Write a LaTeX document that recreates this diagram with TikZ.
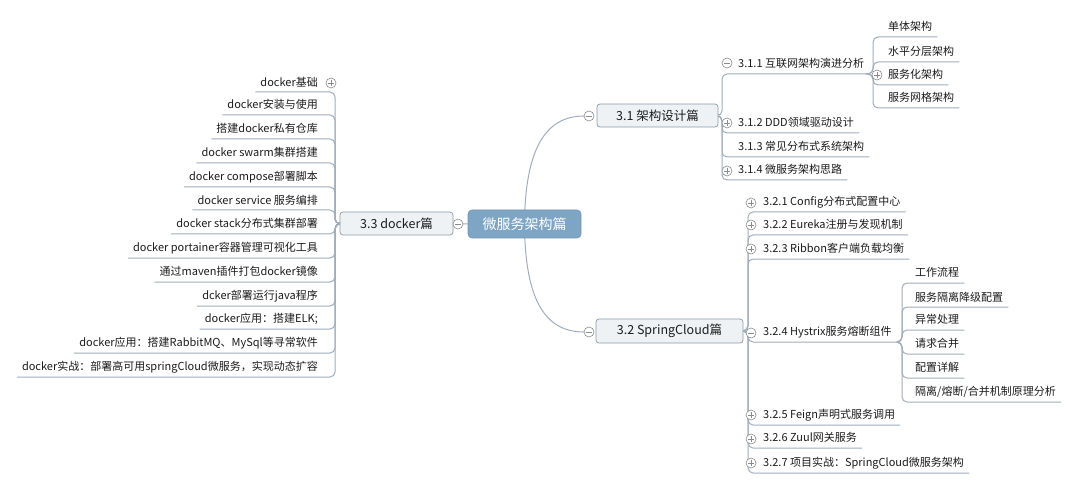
\documentclass[tikz,border=0pt]{standalone}
\usepackage{fontspec}
\newfontfamily\cjk{Noto Sans CJK SC}
\usetikzlibrary{backgrounds}
\definecolor{lnc}{HTML}{A0AEBC}
\definecolor{rootc}{HTML}{7FA5C5}
\definecolor{rootd}{HTML}{6F95B5}
\definecolor{boxf}{HTML}{EEF2F5}
\definecolor{boxd}{HTML}{8D9BA9}
\definecolor{mkc}{HTML}{8A8A8A}
\definecolor{txt}{HTML}{1C1C1C}
\tikzset{
  conn/.style={draw=lnc, line width=1pt, rounded corners=5pt},
  curv/.style={draw=lnc, line width=1pt},
  rootbox/.style={rectangle, rounded corners=4pt, fill=rootc, draw=rootd, line width=0.6pt,
    text=white, font=\cjk\fontsize{14}{16}\selectfont, minimum width=113pt, minimum height=28pt, inner sep=0pt},
  branchbox/.style={rectangle, rounded corners=3pt, fill=boxf, draw=boxd, line width=0.7pt,
    text=txt, font=\cjk\fontsize{12.5}{14}\selectfont, minimum height=23pt, inner sep=0pt},
  item/.style={font=\cjk\fontsize{11}{13}\selectfont, text=txt, inner xsep=5pt, inner ysep=0pt, minimum height=20pt},
  ritem/.style={item, anchor=south west},
  litem/.style={item, anchor=south east},
  mk/.style={circle, draw=mkc, fill=white, minimum size=10pt, inner sep=0pt, line width=0.6pt},
  minusmk/.style={mk, path picture={\draw[mkc, line width=0.6pt]
      ([xshift=2.2pt]path picture bounding box.west) -- ([xshift=-2.2pt]path picture bounding box.east);}},
  plusmk/.style={mk, path picture={\draw[mkc, line width=0.6pt]
      ([xshift=2.2pt]path picture bounding box.west) -- ([xshift=-2.2pt]path picture bounding box.east)
      ([yshift=-2.2pt]path picture bounding box.north) -- ([yshift=2.2pt]path picture bounding box.south);}},
}
\begin{document}
\begin{tikzpicture}[x=1pt,y=-1pt]
\useasboundingbox (0,0) rectangle (1080,492);

% ---- main nodes
\node[rootbox] (root) at (524.5,224) {微服务架构篇};
\node[branchbox, minimum width=121pt] (b31) at (657.5,115.5) {3.1 架构设计篇};
\node[branchbox, minimum width=147pt, minimum height=24pt] (b32) at (669.5,331) {3.2 SpringCloud篇};
\node[branchbox, minimum width=113pt] (b33) at (396.5,223.5) {3.3 docker篇};

% ---- 3.1 children
\node[ritem] (r1) at (733,74) {3.1.1 互联网架构演进分析};
\node[ritem] (r2) at (733,133) {3.1.2 DDD领域驱动设计};
\node[ritem] (r3) at (733,157) {3.1.3 常见分布式系统架构};
\node[ritem] (r4) at (733,180) {3.1.4 微服务架构思路};
\node[ritem] (g1) at (883,37) {单体架构};
\node[ritem] (g2) at (883,62) {水平分层架构};
\node[ritem] (g3) at (883,85) {服务化架构};
\node[ritem] (g4) at (883,108) {服务网格架构};

% ---- 3.2 children
\node[ritem] (s1) at (758,212) {3.2.1 Config分布式配置中心};
\node[ritem] (s2) at (758,235) {3.2.2 Eureka注册与发现机制};
\node[ritem] (s3) at (758,259) {3.2.3 Ribbon客户端负载均衡};
\node[ritem] (s4) at (758,342) {3.2.4 Hystrix服务熔断组件};
\node[ritem] (s5) at (758,425) {3.2.5 Feign声明式服务调用};
\node[ritem] (s6) at (758,448) {3.2.6 Zuul网关服务};
\node[ritem] (s7) at (758,473) {3.2.7 项目实战：SpringCloud微服务架构};
\node[ritem] (h1) at (910,283) {工作流程};
\node[ritem] (h2) at (910,307) {服务隔离降级配置};
\node[ritem] (h3) at (910,330) {异常处理};
\node[ritem] (h4) at (910,354) {请求合并};
\node[ritem] (h5) at (910,378) {配置详解};
\node[ritem] (h6) at (910,402) {隔离/熔断/合并机制原理分析};

% ---- 3.3 children
\node[litem] (d1) at (323,92) {docker基础};
\node[litem] (d2) at (323,115) {docker安装与使用};
\node[litem] (d3) at (323,139) {搭建docker私有仓库};
\node[litem] (d4) at (323,163) {docker swarm集群搭建};
\node[litem] (d5) at (323,187) {docker compose部署脚本};
\node[litem] (d6) at (323,210) {docker service 服务编排};
\node[litem] (d7) at (323,234) {docker stack分布式集群部署};
\node[litem] (d8) at (323,258) {docker portainer容器管理可视化工具};
\node[litem] (d9) at (323,282) {通过maven插件打包docker镜像};
\node[litem] (d10) at (323,306) {dcker部署运行java程序};
\node[litem] (d11) at (323,329) {docker应用：搭建ELK;};
\node[litem] (d12) at (323,353) {docker应用：搭建RabbitMQ、MySql等寻常软件};
\node[litem] (d13) at (323,377) {docker实战：部署高可用springCloud微服务，实现动态扩容};

% ---- connectors (behind)
\begin{scope}[on background layer]
\fill[white] (0,0) rectangle (1080,492);
\coordinate (j31) at (722,116);
\coordinate (j311) at (873,74);
\coordinate (j32) at (748,331);
\coordinate (j324) at (902,342);
\coordinate (j33) at (335,224);
\draw[curv] (root.center) .. controls (525,150) and (545,116) .. (584,116);
\draw[curv] (root.center) .. controls (525,300) and (545,332) .. (584,332);
\draw[curv] (root.west) -- (b33.east);
\foreach \n in {r1,r2,r3,r4} \draw[conn] (b31.east) -- (j31) |- (\n.south east);
\foreach \n in {g1,g2,g3,g4} \draw[conn] (r1.south east) -- (j311) |- (\n.south east);
\foreach \n in {s1,s2,s3,s4,s5,s6,s7} \draw[conn] (b32.east) -- (j32) |- (\n.south east);
\foreach \n in {h1,h2,h3,h4,h5,h6} \draw[conn] (s4.south east) -- (j324) |- (\n.south east);
\foreach \n in {d1,d2,d3,d4,d5,d6,d7,d8,d9,d10,d11,d12,d13} \draw[conn] (b33.west) -- (j33) |- (\n.south west);
\end{scope}

% ---- markers
\node[minusmk] (m31) at (589,116) {};
\node[minusmk] (m32) at (589,332) {};
\node[minusmk] (m33) at (458,224) {};
\node[minusmk] (m311) at (727,63) {};
\node[plusmk] (m312) at (727,123) {};
\node[plusmk] (m314) at (727,171) {};
\node[plusmk] (mg3) at (877,75) {};
\node[plusmk] (m321) at (751,203) {};
\node[plusmk] (m322) at (751,225) {};
\node[plusmk] (m323) at (751,249) {};
\node[minusmk] (m324) at (751,333) {};
\node[plusmk] (m325) at (751,415) {};
\node[plusmk] (m326) at (751,439) {};
\node[plusmk] (m327) at (751,463) {};
\node[plusmk] (md1) at (331,83) {};
\end{tikzpicture}
\end{document}
